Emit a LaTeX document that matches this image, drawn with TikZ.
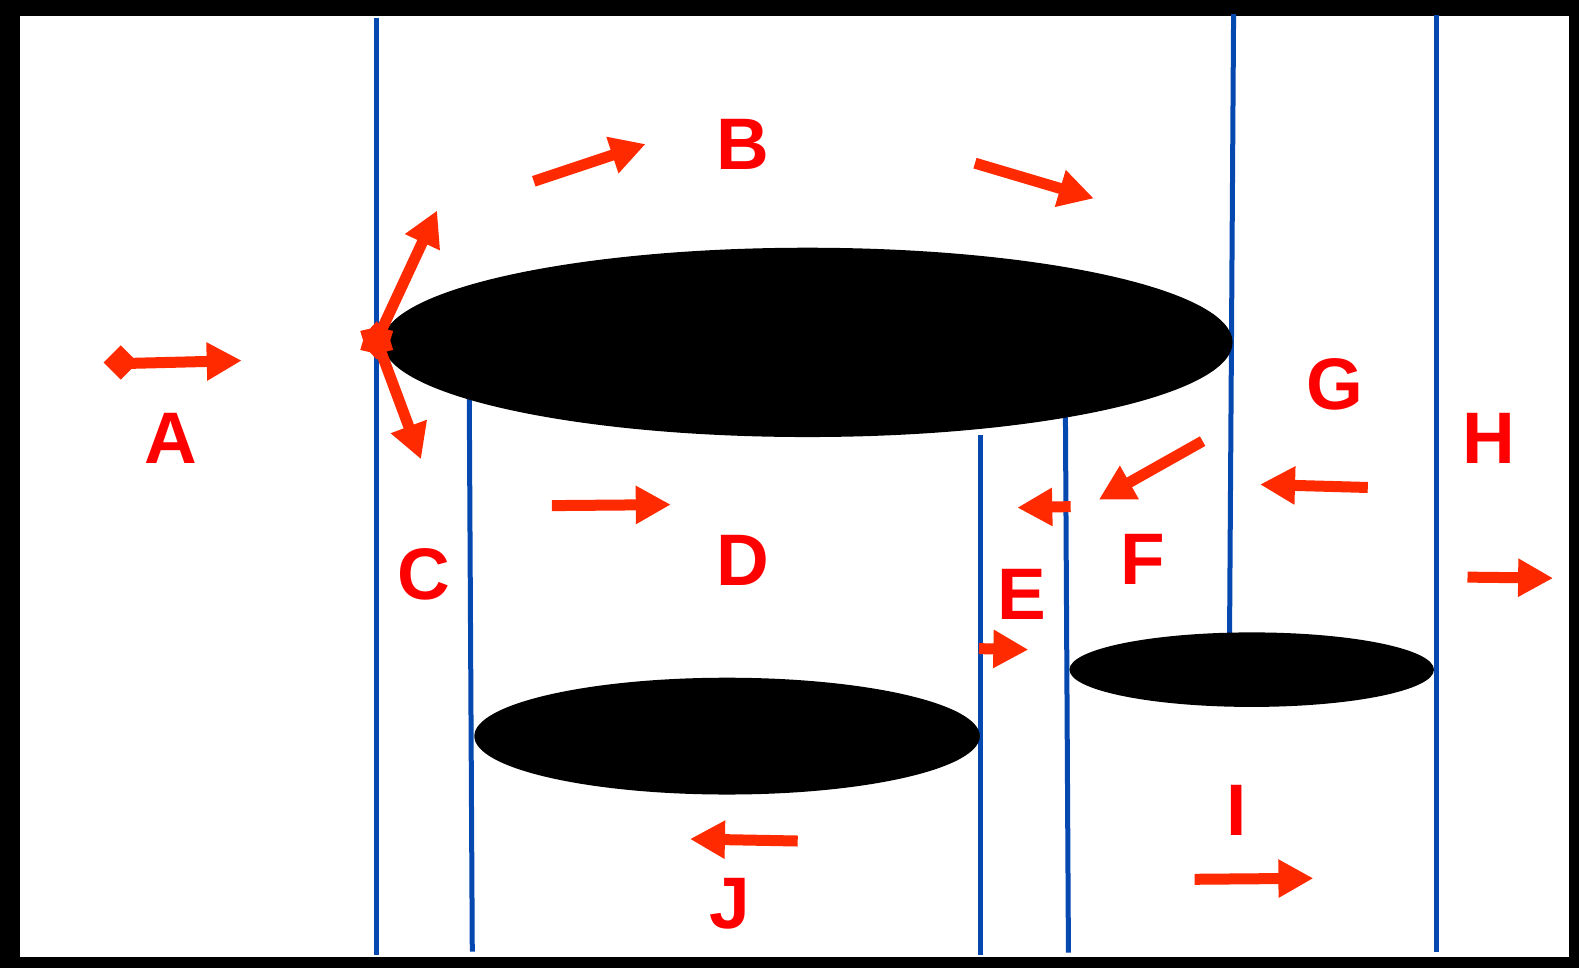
\documentclass[tikz,border=0pt]{standalone}
\usepackage{fontspec}
\setmainfont{Liberation Sans}
\usetikzlibrary{arrows.meta,shapes.geometric}
\definecolor{flowred}{RGB}{255,42,0}
\definecolor{labred}{RGB}{255,0,0}
\definecolor{wallblue}{RGB}{5,72,175}
\tikzset{
  wall/.style={draw=wallblue,line width=5pt},
  disc/.style={fill=black},
  flow/.style={draw=flowred,line width=11pt,-{Triangle[length=35pt,width=36pt]},color=flowred},
  lab/.style={text=labred,font=\fontsize{73}{80}\selectfont\bfseries,inner sep=0pt}
}
\begin{document}
\begin{tikzpicture}[x=1pt,y=-1pt]
\useasboundingbox (0,0) rectangle (1579,968);
% frame
\fill[black] (0,0) rectangle (1579,968);
\fill[white] (20,16) rectangle (1569,957);
\begin{scope}[scale=1.007]
% walls
\draw[wall] (374,18) -- (374,948);
\draw[wall] (466,395) -- (469,945);
\draw[wall] (974,432) -- (974,948);
\draw[wall] (1058,410) -- (1061,946);
\draw[wall] (1225,14) -- (1221,630);
\draw[wall] (1426,15) -- (1426,945);
% discs
\fill[disc] (802,340) ellipse [x radius=422, y radius=94];
\fill[disc] (722,731) ellipse [x radius=251, y radius=58];
\fill[disc] (1243,665) ellipse [x radius=181, y radius=37];
% arrow end points
\coordinate (a0) at (121,361); \coordinate (a1) at (240,358);
\coordinate (c0) at (374,338); \coordinate (c1) at (434,209); \coordinate (c2) at (418,456);
\coordinate (b0) at (530,180); \coordinate (b1) at (641,143);
\coordinate (b2) at (968,162); \coordinate (b3) at (1086,197);
\coordinate (d0) at (548,502); \coordinate (d1) at (666,501);
\coordinate (e0) at (1063,503); \coordinate (e1) at (1010,504);
\coordinate (e2) at (972,644); \coordinate (e3) at (1021,645);
\coordinate (f0) at (1194,438); \coordinate (f1) at (1091,496);
\coordinate (g0) at (1358,484); \coordinate (g1) at (1251,481);
\coordinate (h0) at (1457,573); \coordinate (h1) at (1542,574);
\coordinate (i0) at (1186,873); \coordinate (i1) at (1304,872);
\coordinate (j0) at (792,835); \coordinate (j1) at (685,833);
% arrows
\draw[flow] (a0) -- (a1);
\fill[flowred] (120,343) -- (137,360) -- (120,377) -- (103,360) -- cycle;
\draw[flow] (c0) -- (c1);
\draw[flow] (c0) -- (c2);
\node[star,star points=6,star point ratio=1.4,fill=flowred,minimum size=38pt,inner sep=0pt] (cstar) at (c0) {};
\draw[flow] (b0) -- (b1);
\draw[flow] (b2) -- (b3);
\draw[flow] (d0) -- (d1);
\draw[flow] (e0) -- (e1);
\draw[flow] (e2) -- (e3);
\draw[flow] (f0) -- (f1);
\draw[flow] (g0) -- (g1);
\draw[flow] (h0) -- (h1);
\draw[flow] (i0) -- (i1);
\draw[flow] (j0) -- (j1);
% labels
\node[lab] (A) at (170,435) {A};
\node[lab] (B) at (738,143) {B};
\node[lab] (C) at (421,570) {C};
\node[lab] (D) at (738,556) {D};
\node[lab] (E) at (1015,590) {E};
\node[lab] (F) at (1135,555) {F};
\node[lab] (G) at (1326,382) {G};
\node[lab] (H) at (1478,435) {H};
\node[lab] (I) at (1228,805) {I};
\node[lab] (J) at (725,897) {J};
\end{scope}
\end{tikzpicture}
\end{document}
